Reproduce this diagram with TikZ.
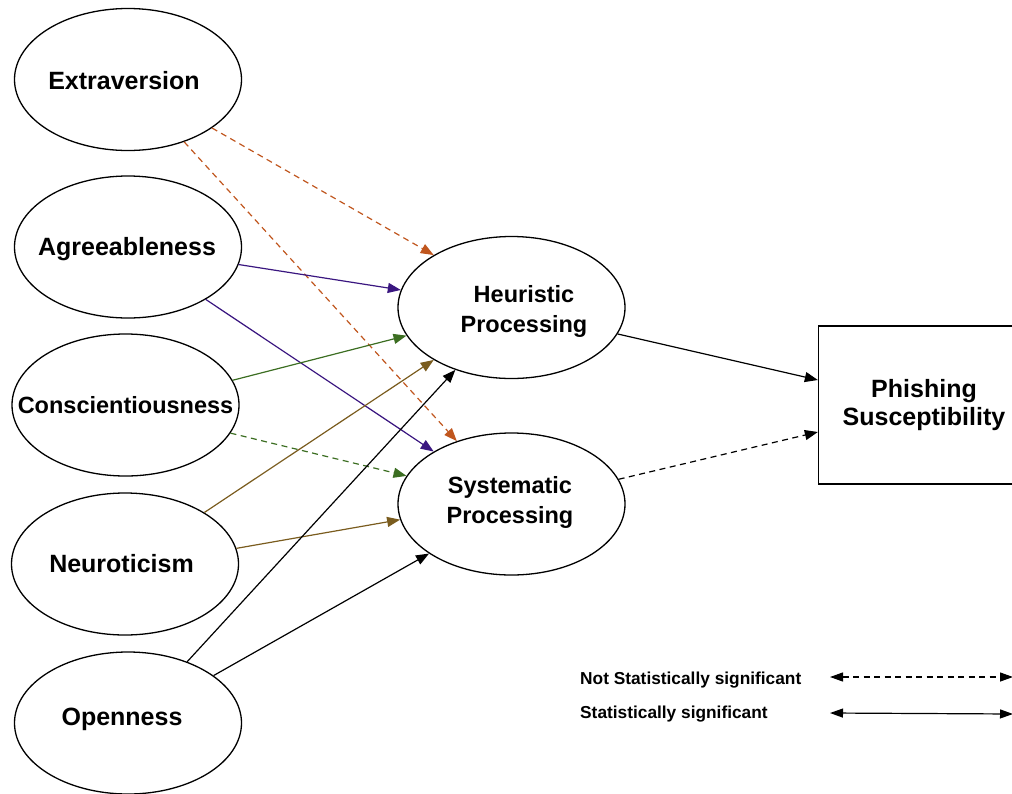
\documentclass[tikz,border=0pt]{standalone}
\usepackage{fontspec}
\setmainfont{Liberation Sans}
\usetikzlibrary{arrows.meta,shapes.geometric}

\definecolor{extcol}{RGB}{192,86,30}
\definecolor{agrcol}{RGB}{58,22,128}
\definecolor{concol}{RGB}{60,110,34}
\definecolor{neucol}{RGB}{122,92,30}

\tikzset{
  trait/.style={draw, ellipse, line width=1.3pt, minimum width=227pt,
    minimum height=142pt, inner sep=0pt,
    font=\bfseries\fontsize{25}{30}\selectfont},
  proc/.style={trait, font=\bfseries\fontsize{23.5}{30}\selectfont},
  outcome/.style={draw, rectangle, line width=1.3pt, minimum width=211pt,
    minimum height=158pt, align=center,
    font=\bfseries\fontsize{25}{31}\selectfont},
  link/.style={line width=1.2pt, -{Triangle[length=13pt,width=10pt]}},
  weak/.style={link, dash pattern=on 6pt off 4.5pt},
  keytext/.style={anchor=west, inner sep=0pt, font=\bfseries\fontsize{17.3}{20}\selectfont},
  keyline/.style={line width=1.2pt, {Triangle[length=13pt,width=9pt]}-{Triangle[length=13pt,width=9pt]}}
}
% zero-width label: optional horizontal offset (twice the shift) and a raise
% that leaves the box dimensions untouched
\newcommand{\zw}[3][0pt]{\makebox[0pt]{\hspace*{#1}\raisebox{#2}[\height][\depth]{#3}}}
\newcommand{\twolines}[2]{\begin{tabular}{@{}c@{}}#1\\#2\end{tabular}}

\begin{document}
\begin{tikzpicture}[x=1pt, y=-1pt]
\useasboundingbox (0,0) rectangle (1012,793);

% personality traits
\node[trait] (ext) at (128,79.5) {\zw[-8pt]{-1pt}{Extraversion}};
\node[trait] (agr) at (128,247) {\zw[-2pt]{-2pt}{Agreeableness}};
\node[trait, font=\bfseries\fontsize{23.5}{30}\selectfont] (con) at (125.5,405) {\zw{0pt}{Conscientiousness}};
\node[trait] (neu) at (125,564) {\zw[-7pt]{0pt}{Neuroticism}};
\node[trait] (ope) at (128,723) {\zw[-12pt]{4pt}{Openness}};

% processing modes
\node[proc] (heu) at (511.5,307.5) {\zw[25pt]{-4pt}{\twolines{Heuristic}{Processing}}};
\node[proc] (sys) at (511.5,504) {\zw[-3pt]{2pt}{\twolines{Systematic}{Processing}}};

% outcome
\node[outcome] (phi) at (924,405) {\raisebox{-3pt}{Phishing}\\Susceptibility};

% trait -> processing paths
\draw[weak, extcol] (ext.-30.6) -- (heu.146.4);
\draw[weak, extcol] (ext.-48.1) -- (sys.131.9);
\draw[link, agrcol] (agr.-9.8) -- (heu.171.2);
\draw[link, agrcol] (agr.-34.5) -- (sys.146.8);
\draw[link, concol] (con.13.8) -- (heu.195);
\draw[weak, concol] (con.-15.4) -- (sys.165.9);
\draw[link, neucol] (neu.33.2) -- (heu.214.4);
\draw[link, neucol] (neu.8.2) -- (sys.188.5);
\draw[link, black] (ope.46.4) -- (heu.228.2);
\draw[link, black] (ope.29.7) -- (sys.211.9);

% processing -> outcome paths
\draw[link] (heu.-14.2) -- ([yshift=25pt]phi.west);
\draw[weak] (sys.13.5) -- ([yshift=-27pt]phi.west);

% key
\node[keytext] (k1) at (580,680) {Not Statistically significant};
\node[keytext] (k2) at (580,714) {Statistically significant};
\coordinate (k1a) at (830,677);
\coordinate (k1b) at (1013,677);
\coordinate (k2a) at (830,713);
\coordinate (k2b) at (1013,714);
\draw[keyline, dash pattern=on 6pt off 4.5pt] (k1a) -- (k1b);
\draw[keyline] (k2a) -- (k2b);
\end{tikzpicture}
\end{document}
